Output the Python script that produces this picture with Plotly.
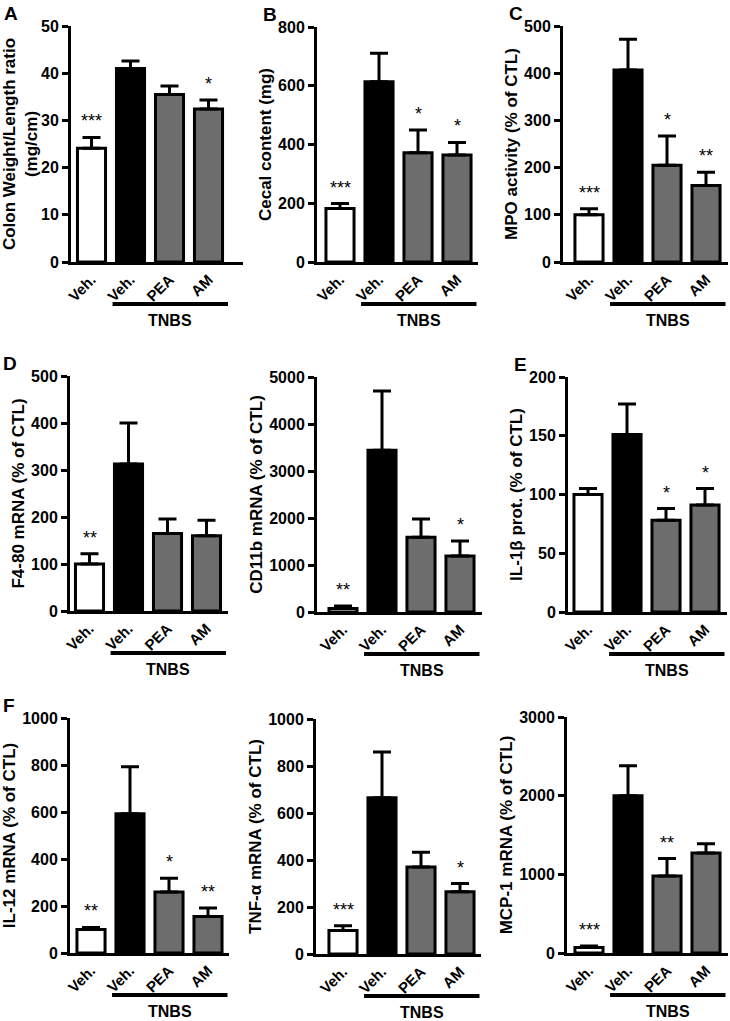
import plotly.graph_objs as go

# group labels shared by every panel
groups = ["Veh.", "Veh.", "PEA", "AM"]
bar_colors = ["white", "black", "#6d6d6d", "#6d6d6d"]

# A - colon weight/length ratio
colon_ratio = [24.1, 41.0, 35.5, 32.4]
colon_ratio_sem = [2.3, 1.6, 1.8, 1.9]
colon_ratio_sig = ["***", "", "", "*"]

# B - cecal content
cecal = [182, 614, 372, 364]
cecal_sem = [17, 97, 77, 43]
cecal_sig = ["***", "", "*", "*"]

# C - MPO activity
mpo = [100, 407, 205, 162]
mpo_sem = [13, 65, 62, 28]
mpo_sig = ["***", "", "*", "**"]

# D - F4-80 mRNA
f480 = [100, 313, 165, 160]
f480_sem = [22, 87, 31, 33]
f480_sig = ["**", "", "", ""]

# D - CD11b mRNA
cd11b = [75, 3440, 1590, 1190]
cd11b_sem = [50, 1260, 390, 320]
cd11b_sig = ["**", "", "", "*"]

# E - IL-1b protein
il1b = [100, 151, 78, 91]
il1b_sem = [5, 26, 10, 14]
il1b_sig = ["", "", "*", "*"]

# F - IL-12 mRNA
il12 = [100, 593, 260, 155]
il12_sem = [9, 200, 58, 37]
il12_sig = ["**", "", "*", "**"]

# F - TNF-alpha mRNA
tnfa = [100, 665, 370, 265]
tnfa_sem = [20, 195, 63, 35]
tnfa_sig = ["***", "", "", "*"]

# F - MCP-1 mRNA
mcp1 = [70, 2000, 980, 1270]
mcp1_sem = [20, 380, 220, 120]
mcp1_sig = ["***", "", "**", ""]

W, H = 730, 1021
FONT = "Liberation Sans, Arial, sans-serif"
STEP = 39.0  # px between bar centres


def px_x(p):
    return p / W


def px_y(p):
    return 1 - p / H


# panel: values, sem, stars, y title, y max, dtick, letter, pixel geometry
panels = [
    (colon_ratio, colon_ratio_sem, colon_ratio_sig, "Colon Weight/Length ratio<br>(mg/cm)", 50, 10, "A",
     (71, 243, 91.5, 26, 262)),
    (cecal, cecal_sem, cecal_sig, "Cecal content (mg)", 800, 200, "B",
     (317, 478, 340, 27, 262)),
    (mpo, mpo_sem, mpo_sig, "MPO activity (% of CTL)", 500, 100, "C",
     (563, 728, 589, 26, 262)),
    (f480, f480_sem, f480_sig, "F4-80 mRNA (% of CTL)", 500, 100, "D",
     (70, 228, 89.5, 376, 611)),
    (cd11b, cd11b_sem, cd11b_sig, "CD11b mRNA (% of CTL)", 5000, 1000, "",
     (317, 482, 343, 377, 612)),
    (il1b, il1b_sem, il1b_sig, "IL-1β prot. (% of CTL)", 200, 50, "E",
     (568, 727, 588, 377, 612)),
    (il12, il12_sem, il12_sig, "IL-12 mRNA (% of CTL)", 1000, 200, "F",
     (70, 229, 91, 718, 953)),
    (tnfa, tnfa_sem, tnfa_sig, "TNF-α mRNA (% of CTL)", 1000, 200, "",
     (316, 481, 343, 719, 954)),
    (mcp1, mcp1_sem, mcp1_sig, "MCP-1 mRNA (% of CTL)", 3000, 1000, "",
     (567, 728, 589, 717, 953)),
]

fig = go.Figure()
layout = dict(width=W, height=H, margin=dict(l=0, r=0, t=0, b=0, autoexpand=False),
              paper_bgcolor="white", plot_bgcolor="white", showlegend=False,
              font=dict(family=FONT, color="black"))
annotations = []
shapes = []

for i, (vals, sem, sig, ytitle, ymax, dtick, letter, geo) in enumerate(panels):
    n = i + 1
    yx, right, c0, top, bottom = geo
    xa = "x" if n == 1 else "x%d" % n
    ya = "y" if n == 1 else "y%d" % n
    xpos = list(range(len(groups)))

    fig.add_trace(go.Bar(
        x=xpos, y=vals, width=0.72, xaxis=xa, yaxis=ya,
        marker=dict(color=bar_colors, line=dict(color="black", width=3)),
        error_y=dict(type="data", array=sem, arrayminus=[0] * len(sem), symmetric=False,
                     color="black", thickness=3, width=9),
    ))

    layout["xaxis%d" % n] = dict(
        domain=[px_x(yx), px_x(right)], anchor=ya, automargin=False,
        range=[(yx - c0) / STEP, (right - c0) / STEP],
        tickvals=xpos, ticktext=["<b>%s</b>" % g for g in groups], tickangle=-45,
        ticks="", showline=True, linecolor="black", linewidth=3, showgrid=False, zeroline=False,
        tickfont=dict(size=15, family=FONT, color="black"),
    )
    layout["yaxis%d" % n] = dict(
        domain=[px_y(bottom), px_y(top)], anchor=xa, automargin=False,
        range=[0, ymax], dtick=dtick, tick0=0,
        ticks="outside", ticklen=6, tickwidth=3, tickcolor="black",
        showline=True, linecolor="black", linewidth=3, showgrid=False, zeroline=False,
        tickfont=dict(size=16, family=FONT, color="black"), tickprefix="<b>", ticksuffix="</b>",
        title=dict(text="<b>%s</b>" % ytitle, font=dict(size=17, family=FONT, color="black"),
                   standoff=3),
    )

    # significance stars above the error bars
    for j, s in enumerate(sig):
        if s:
            annotations.append(dict(
                x=j, y=vals[j] + sem[j], xref=xa, yref=ya, text=s, showarrow=False,
                yanchor="bottom", yshift=4, font=dict(size=18, family=FONT, color="black"),
            ))

    # TNBS group line and label
    shapes.append(dict(type="line", xref=xa, yref="paper", x0=0.54, x1=3.5,
                       y0=px_y(bottom + 42), y1=px_y(bottom + 42),
                       line=dict(color="black", width=4)))
    annotations.append(dict(x=2.02, y=px_y(bottom + 58), xref=xa, yref="paper",
                            text="<b>TNBS</b>", showarrow=False, yanchor="middle",
                            font=dict(size=16, family=FONT, color="black")))

    if letter:
        annotations.append(dict(x=px_x(yx - 69 if yx < 100 else yx - 56), y=px_y(top - 13),
                                xref="paper", yref="paper", text="<b>%s</b>" % letter,
                                showarrow=False, xanchor="left", yanchor="middle",
                                font=dict(size=19, family=FONT, color="black")))

layout["annotations"] = annotations
layout["shapes"] = shapes
fig.update_layout(**layout)

# drop the browser's default page margin so the figure sits at the window's corner
fig.write_html("out.html", config={"displayModeBar": False},
               post_script="document.body.style.margin='0';")
